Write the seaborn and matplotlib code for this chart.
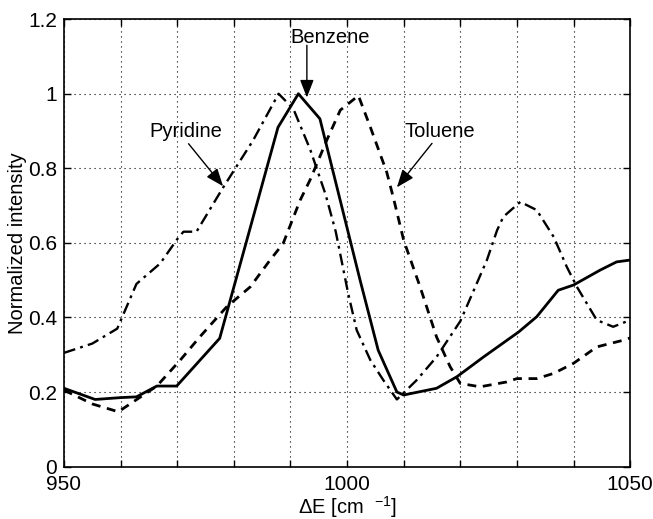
import matplotlib
matplotlib.use("Agg")
import matplotlib.pyplot as plt
import numpy as np
import pandas as pd
import seaborn as sns

# Benzene (solid)
benzene_x = [950, 955.5, 960, 962.8, 966.4, 969.9, 977.5, 987.8, 991.4, 995.2,
             1002.3, 1005.5, 1008.8, 1010, 1015.8, 1019.4, 1024.1, 1030.3, 1033.5,
             1037.3, 1040, 1044.7, 1047.6, 1050]
benzene_y = [0.21, 0.18, 0.185, 0.187, 0.216, 0.216, 0.344, 0.91, 1.0, 0.933,
             0.5, 0.312, 0.2, 0.192, 0.21, 0.241, 0.294, 0.361, 0.402,
             0.473, 0.487, 0.527, 0.549, 0.554]

# Toluene (dashed)
toluene_x = [950, 955, 959.6, 966.4, 970.5, 974, 978.7, 982.9, 986.4, 988.7,
             991.7, 993.5, 996.4, 998.8, 1002, 1004.1, 1007, 1008.2, 1010, 1012.9,
             1015.8, 1018.2, 1020, 1023.5, 1028.2, 1030, 1033.5, 1036.5, 1040,
             1044.1, 1048.8, 1050]
toluene_y = [0.205, 0.168, 0.147, 0.216, 0.285, 0.348, 0.428, 0.482, 0.554, 0.598,
             0.714, 0.77, 0.875, 0.956, 0.995, 0.911, 0.79, 0.72, 0.607, 0.482,
             0.348, 0.268, 0.223, 0.214, 0.227, 0.236, 0.236, 0.25, 0.277,
             0.321, 0.339, 0.345]

# Pyridine (dash-dot)
pyridine_x = [950, 955, 959.4, 962.8, 967, 970, 971.1, 973.4, 978, 983.4,
              987.9, 990.5, 993.5, 996.2, 998, 1000.2, 1001.7, 1004.1, 1006.4, 1008.8,
              1012.3, 1015.8, 1020, 1022.3, 1024.7, 1026.5, 1027.6, 1030.6, 1033.5,
              1036.5, 1038.8, 1040.6, 1044.1, 1047, 1050]
pyridine_y = [0.305, 0.33, 0.37, 0.49, 0.545, 0.61, 0.63, 0.63, 0.746, 0.875,
              1.0, 0.96, 0.85, 0.73, 0.63, 0.464, 0.366, 0.286, 0.232, 0.18,
              0.232, 0.294, 0.39, 0.47, 0.554, 0.634, 0.67, 0.71, 0.688,
              0.616, 0.536, 0.482, 0.393, 0.375, 0.393]

y_ticks = [0, 0.2, 0.4, 0.6, 0.8, 1.0, 1.2]
y_ticklabels = ["0", "0.2", "0.4", "0.6", "0.8", "1", "1.2"]
x_ticks = list(range(950, 1051, 10))
x_ticklabels = ["950", "", "", "", "", "1000", "", "", "", "", "1050"]

sns.set_theme(style="white")
plt.rcParams["font.family"] = ["Liberation Sans", "DejaVu Sans"]
plt.rcParams["text.color"] = "black"
plt.rcParams["mathtext.fontset"] = "custom"
plt.rcParams["mathtext.rm"] = "Liberation Sans"
plt.rcParams["mathtext.it"] = "Liberation Sans"

fig, ax = plt.subplots(figsize=(6.53, 5.19), dpi=100)
fig.subplots_adjust(left=0.098, right=0.965, top=0.963, bottom=0.101)

sns.lineplot(x=benzene_x, y=benzene_y, ax=ax, color="black", lw=2.0,
             linestyle="-", sort=False)
sns.lineplot(x=toluene_x, y=toluene_y, ax=ax, color="black", lw=2.0,
             linestyle=(0, (3.2, 2.4)), sort=False)
sns.lineplot(x=pyridine_x, y=pyridine_y, ax=ax, color="black", lw=1.7,
             linestyle=(0, (5, 2.2, 1.2, 2.2)), sort=False)

ax.set_xlim(950, 1050)
ax.set_ylim(0, 1.2)
ax.set_xticks(x_ticks)
ax.set_xticklabels(x_ticklabels)
ax.set_yticks(y_ticks)
ax.set_yticklabels(y_ticklabels)
ax.tick_params(direction="in", length=5, width=1, labelsize=15, colors="black",
               top=True, right=True, bottom=True, left=True, pad=5)
ax.tick_params(axis="x", pad=6)
ax.grid(True, color="black", linestyle=(0, (1, 3.5)), linewidth=0.8)
for s in ax.spines.values():
    s.set_color("black")
    s.set_linewidth(1.2)

ax.set_xlabel(r"ΔE [cm  $^{-1}$]", fontsize=14.5, color="black", labelpad=0)
ax.set_ylabel("Normalized intensity", fontsize=14.5, color="black", labelpad=1)

arrow = dict(arrowstyle="-|>,head_length=0.9,head_width=0.35", color="black",
             lw=1.0, shrinkA=0, shrinkB=0)
ax.text(997, 1.15, "Benzene", fontsize=14.5, ha="center", va="center")
ax.annotate("", xy=(992.9, 0.99), xytext=(992.9, 1.13), arrowprops=arrow)
ax.text(971.5, 0.898, "Pyridine", fontsize=14.5, ha="center", va="center")
ax.annotate("", xy=(978.1, 0.752), xytext=(972, 0.866), arrowprops=arrow)
ax.text(1016.4, 0.898, "Toluene", fontsize=14.5, ha="center", va="center")
ax.annotate("", xy=(1008.8, 0.749), xytext=(1015, 0.867), arrowprops=arrow)

fig.savefig("out.png", dpi=100)
